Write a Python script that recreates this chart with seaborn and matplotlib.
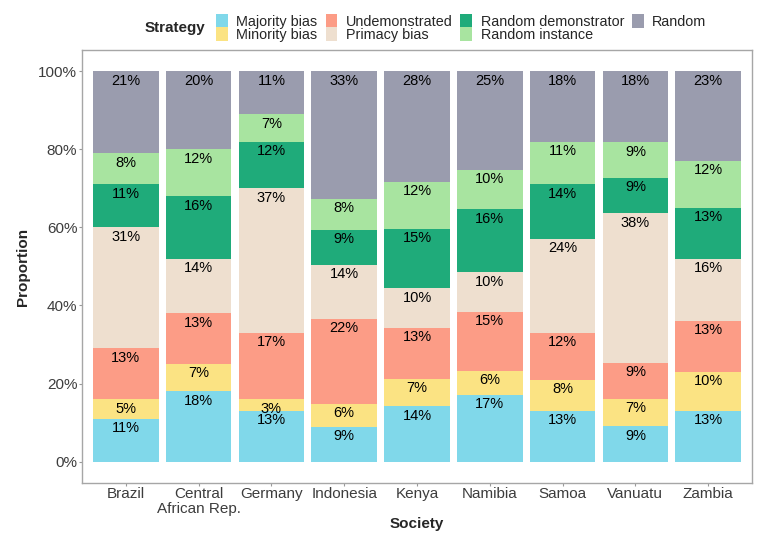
import numpy as np
import pandas as pd
import matplotlib.pyplot as plt
import seaborn as sns
from matplotlib.patches import Patch
from matplotlib.ticker import PercentFormatter

sns.set_theme(style="white")
plt.rcParams['font.family'] = ['Liberation Sans', 'DejaVu Sans']

societies = ["Brazil", "Central\nAfrican Rep.", "Germany", "Indonesia", "Kenya",
             "Namibia", "Samoa", "Vanuatu", "Zambia"]
strategies = ["Majority bias", "Minority bias", "Undemonstrated", "Primacy bias",
              "Random demonstrator", "Random instance", "Random"]
colors = ["#80d8ea", "#fbe383", "#fc9c86", "#eedfcf", "#1fab7a", "#a8e4a0", "#9a9cae"]

# percentages, bottom to top
majority = [11, 18, 13, 9, 14, 17, 13, 9, 13]
minority = [5, 7, 3, 6, 7, 6, 8, 7, 10]
undemonstrated = [13, 13, 17, 22, 13, 15, 12, 9, 13]
primacy = [31, 14, 37, 14, 10, 10, 24, 38, 16]
random_demo = [11, 16, 12, 9, 15, 16, 14, 9, 13]
random_inst = [8, 12, 7, 8, 12, 10, 11, 9, 12]
random_ = [21, 20, 11, 33, 28, 25, 18, 18, 23]

df = pd.DataFrame({
    "Majority bias": majority,
    "Minority bias": minority,
    "Undemonstrated": undemonstrated,
    "Primacy bias": primacy,
    "Random demonstrator": random_demo,
    "Random instance": random_inst,
    "Random": random_,
}, index=societies)
prop = df.div(df.sum(axis=1), axis=0)

fig, ax = plt.subplots(figsize=(7.68, 5.41), dpi=100)
fig.subplots_adjust(left=0.107, right=0.979, top=0.908, bottom=0.107)

x = np.arange(len(societies))
bottom = np.zeros(len(societies))
for strat, col in zip(strategies, colors):
    vals = prop[strat].values
    ax.bar(x, vals, bottom=bottom, width=0.9, color=col, edgecolor="none")
    tops = bottom + vals
    for xi, top, pct in zip(x, tops, df[strat].values):
        ax.text(xi, top - 0.024, f"{pct}%", ha="center", va="center",
                fontsize=10.5, color="black")
    bottom = tops

ax.set_xlim(-0.6, len(societies) - 0.4)
ax.set_ylim(-0.055, 1.055)
ax.set_xticks(x)
ax.set_xticklabels(societies, fontsize=11, color="#3d3d3d", linespacing=1.05)
ax.set_yticks([0, 0.2, 0.4, 0.6, 0.8, 1.0])
ax.yaxis.set_major_formatter(PercentFormatter(1.0, decimals=0))
ax.tick_params(axis="y", labelsize=11, labelcolor="#3d3d3d", pad=1)
ax.tick_params(axis="x", pad=0.5)
ax.tick_params(axis="both", length=2.5, color="#999999", width=0.8, left=True, bottom=True)
ax.set_xlabel("Society", fontsize=11, fontweight="bold", labelpad=1)
ax.set_ylabel("Proportion", fontsize=11, fontweight="bold", labelpad=6)
for sp in ax.spines.values():
    sp.set_color("#a6a6a6")
    sp.set_linewidth(1.0)

handles = [Patch(facecolor=c, edgecolor="none") for c in colors]
fig.legend(handles, strategies, ncol=4, loc="center left",
           bbox_to_anchor=(0.274, 0.948), frameon=False, fontsize=10.4,
           handlelength=0.8, handleheight=1.1, handletextpad=0.6,
           columnspacing=0.55, labelspacing=-0.1, borderaxespad=0.0)
fig.text(0.268, 0.948, "Strategy", ha="right", va="center",
         fontsize=11, fontweight="bold")

plt.savefig("out.png", dpi=100)
plt.close()
